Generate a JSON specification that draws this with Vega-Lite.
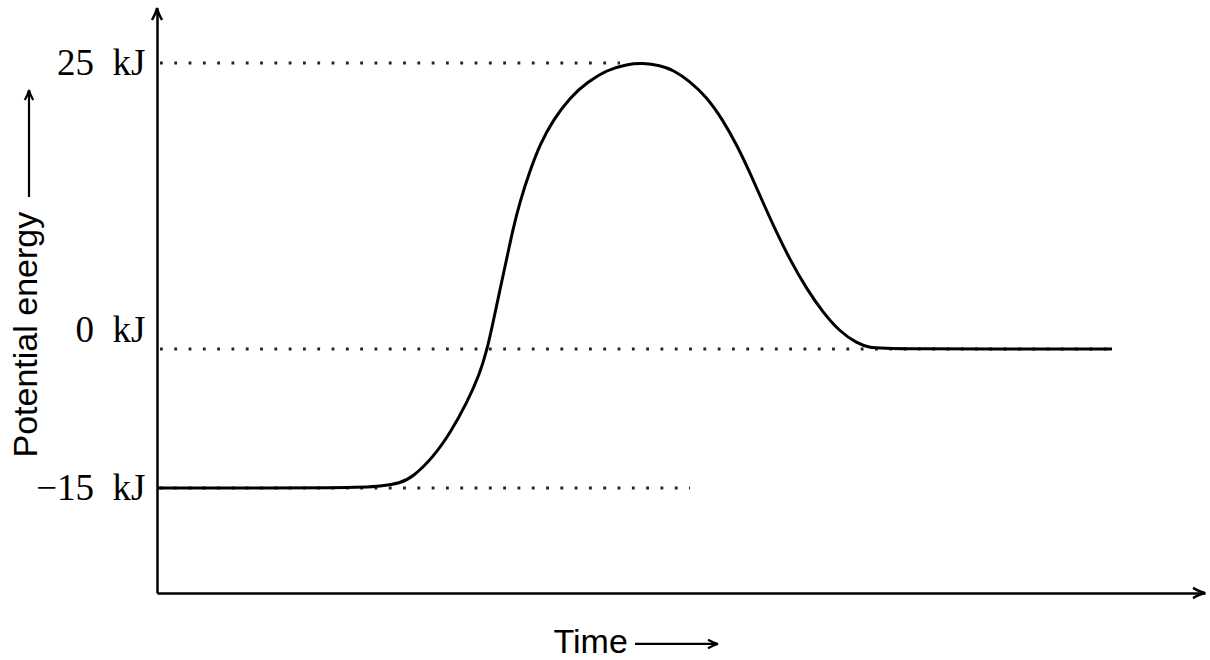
{
  "$schema": "https://vega.github.io/schema/vega-lite/v6.json",
  "width": 1048,
  "height": 593,
  "autosize": {"type": "none"},
  "padding": {"left": 157, "top": 0, "right": 5, "bottom": 67},
  "background": "white",
  "config": {"view": {"stroke": null}},
  "datasets": {
    "curve": [
      {"t": 0, "E": -15}, {"t": 20.3, "E": -15}, {"t": 22.3, "E": -14.8}, {"t": 24.3, "E": -14.5},
      {"t": 25.6, "E": -13.8}, {"t": 27.6, "E": -11.7}, {"t": 29.3, "E": -9.1}, {"t": 31.0, "E": -5.8},
      {"t": 32.3, "E": -2.6}, {"t": 33.0, "E": -0.1}, {"t": 33.6, "E": 2.3}, {"t": 34.3, "E": 5.2},
      {"t": 35.0, "E": 8.0}, {"t": 35.6, "E": 10.5}, {"t": 36.3, "E": 12.9}, {"t": 37.3, "E": 15.6},
      {"t": 38.3, "E": 17.9}, {"t": 39.6, "E": 20.0}, {"t": 41.3, "E": 22.0}, {"t": 43.0, "E": 23.3},
      {"t": 45.0, "E": 24.4}, {"t": 47.0, "E": 24.9}, {"t": 48.6, "E": 25.0}, {"t": 50.3, "E": 24.8},
      {"t": 51.6, "E": 24.4}, {"t": 53.3, "E": 23.4}, {"t": 55.0, "E": 22.0}, {"t": 56.6, "E": 20.0},
      {"t": 58.0, "E": 17.8}, {"t": 59.3, "E": 15.4}, {"t": 60.6, "E": 12.8}, {"t": 62.0, "E": 10.1},
      {"t": 63.3, "E": 7.8}, {"t": 65.0, "E": 5.2}, {"t": 66.6, "E": 3.2}, {"t": 68.3, "E": 1.5},
      {"t": 70.0, "E": 0.5}, {"t": 71.3, "E": 0.1}, {"t": 72.8, "E": 0}, {"t": 95.5, "E": 0}
    ],
    "levels": [
      {"E": 25, "t0": 0.3, "t1": 46.3},
      {"E": 0, "t0": 0.3, "t1": 95.5},
      {"E": -15, "t0": 0.3, "t1": 53.3}
    ],
    "arrows": [
      {"kind": "axis", "dir": "right", "t": 104.8, "E": -26.33},
      {"kind": "axis", "dir": "up", "t": 0, "E": 29.81},
      {"kind": "title", "dir": "up", "t": -12.8, "E": 22.64},
      {"kind": "title", "dir": "right", "t": 56.1, "E": -31.83}
    ],
    "shafts": [
      {"t0": -12.8, "t1": -12.8, "E0": 13.29, "E1": 22.5},
      {"t0": 47.8, "t1": 55.9, "E0": -31.83, "E1": -31.83}
    ]
  },
  "layer": [
    {
      "data": {"name": "levels"},
      "mark": {"type": "rule", "strokeDash": [2.8, 11.5], "strokeWidth": 2.8, "color": "#222222"},
      "encoding": {
        "x": {
          "field": "t0", "type": "quantitative",
          "scale": {"domain": [0, 104.8], "nice": false, "zero": false},
          "axis": {
            "orient": "bottom", "ticks": false, "labels": false, "grid": false,
            "domainColor": "black", "domainWidth": 2.5,
            "title": "Time", "titleFont": "Liberation Sans", "titleFontSize": 34,
            "titleFontWeight": "normal", "titleColor": "black",
            "titleX": 396, "titleY": 59, "titleAlign": "left", "titleBaseline": "alphabetic"
          }
        },
        "x2": {"field": "t1"},
        "y": {
          "field": "E", "type": "quantitative",
          "scale": {"domain": [-26.33, -15, 0, 25, 29.81], "range": [593, 488, 349, 63, 8], "nice": false, "zero": false},
          "axis": {
            "values": [-15, 0, 25],
            "labelExpr": "datum.value == 25 ? '25\u2002kJ' : datum.value == 0 ? '0\u2002kJ' : '−15\u2002kJ'",
            "ticks": false, "grid": false,
            "labelFont": "Liberation Serif", "labelFontSize": 37, "labelColor": "black",
            "labelPadding": 12, "labelBaseline": "middle", "labelOverlap": false, "labelFlush": false,
            "labelOffset": {"condition": {"test": "datum.value === 0", "value": -19}, "value": 0},
            "domainColor": "black", "domainWidth": 2.5,
            "title": "Potential energy", "titleFont": "Liberation Sans", "titleFontSize": 34,
            "titleFontWeight": "normal", "titleColor": "black", "titleAngle": 270,
            "titleX": -121, "titleY": 457, "titleAlign": "left", "titleBaseline": "alphabetic"
          }
        }
      }
    },
    {
      "data": {"name": "curve"},
      "mark": {"type": "line", "color": "black", "strokeWidth": 3, "interpolate": "basis"},
      "encoding": {
        "x": {"field": "t", "type": "quantitative"},
        "y": {"field": "E", "type": "quantitative"}
      }
    },
    {
      "data": {"name": "shafts"},
      "mark": {"type": "rule", "color": "black", "strokeWidth": 2.2},
      "encoding": {
        "x": {"field": "t0", "type": "quantitative"},
        "x2": {"field": "t1"},
        "y": {"field": "E0", "type": "quantitative"},
        "y2": {"field": "E1"}
      }
    },
    {
      "data": {"name": "arrows"},
      "transform": [{"filter": "datum.kind === 'axis'"}],
      "mark": {"type": "point", "filled": false, "stroke": "black", "strokeWidth": 2.5, "size": 576, "opacity": 1},
      "encoding": {
        "x": {"field": "t", "type": "quantitative"},
        "y": {"field": "E", "type": "quantitative"},
        "shape": {
          "field": "dir", "type": "nominal", "legend": null,
          "scale": {"domain": ["right", "up"], "range": ["M -1 -0.42 Q -0.4 -0.08 0 0 Q -0.4 0.08 -1 0.42", "M -0.42 1 Q -0.08 0.4 0 0 Q 0.08 0.4 0.42 1"]}
        }
      }
    },
    {
      "data": {"name": "arrows"},
      "transform": [{"filter": "datum.kind === 'title'"}],
      "mark": {"type": "point", "filled": false, "stroke": "black", "strokeWidth": 2.2, "size": 400, "opacity": 1},
      "encoding": {
        "x": {"field": "t", "type": "quantitative"},
        "y": {"field": "E", "type": "quantitative"},
        "shape": {
          "field": "dir", "type": "nominal", "legend": null,
          "scale": {"domain": ["right", "up"], "range": ["M -1 -0.42 Q -0.4 -0.08 0 0 Q -0.4 0.08 -1 0.42", "M -0.42 1 Q -0.08 0.4 0 0 Q 0.08 0.4 0.42 1"]}
        }
      }
    }
  ]
}
